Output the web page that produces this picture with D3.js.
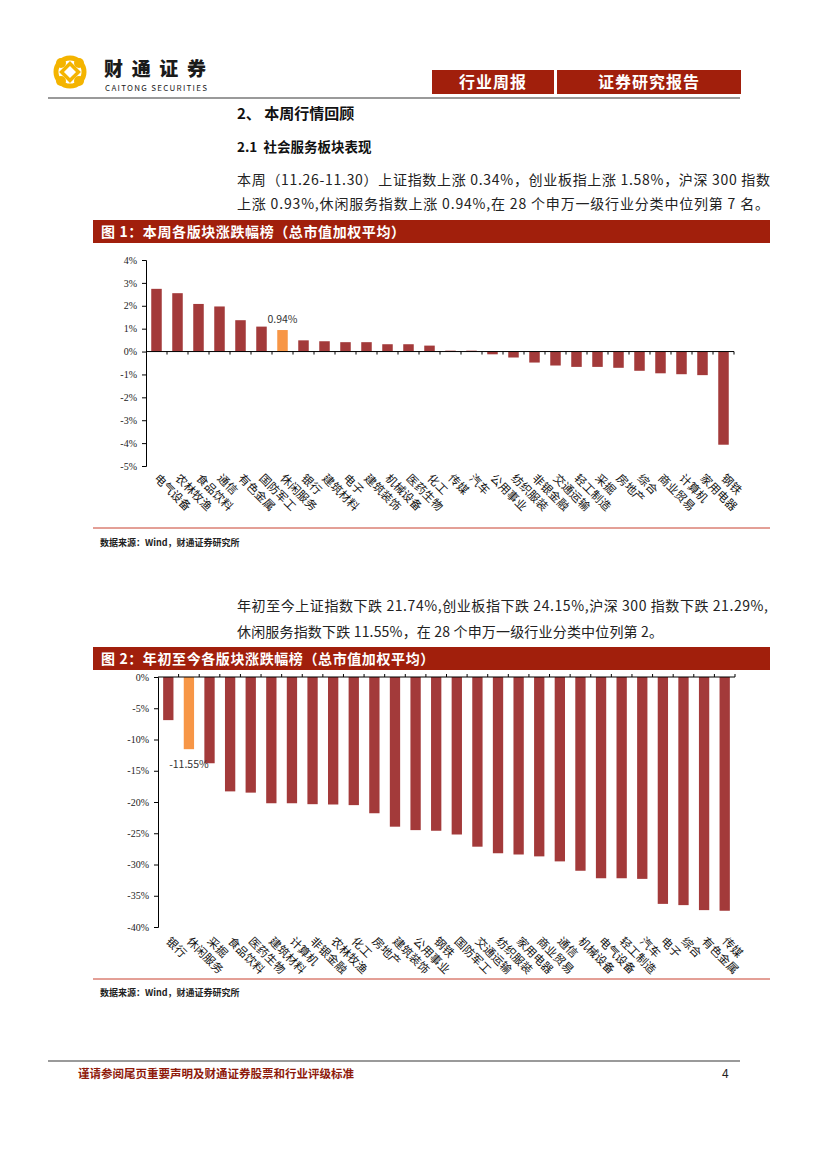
<!DOCTYPE html>
<html>
<head>
<meta charset="utf-8">
<script src="https://cdn.jsdelivr.net/npm/d3@7"></script>
<style>
  html, body { margin: 0; padding: 0; background: #fff; }
  svg { display: block; }
  text { font-family: "Noto Sans CJK SC", "DejaVu Sans", sans-serif; }
  .num { font-family: "Liberation Serif", serif; }
</style>
</head>
<body>
<div id="page"></div>
<script>
// ---- data -------------------------------------------------------
const week_names = ['电气设备','农林牧渔','食品饮料','通信','有色金属','国防军工','休闲服务','银行',
  '建筑材料','电子','建筑装饰','机械设备','医药生物','化工','传媒','汽车','公用事业','纺织服装',
  '非银金融','交通运输','轻工制造','采掘','房地产','综合','商业贸易','计算机','家用电器','钢铁'];
const week_values = [2.74, 2.55, 2.08, 1.97, 1.37, 1.09, 0.94, 0.49, 0.45, 0.41, 0.41, 0.32, 0.32, 0.26,
  0.04, 0.04, -0.12, -0.26, -0.48, -0.61, -0.67, -0.67, -0.71, -0.84, -0.95, -0.99, -1.03, -4.07];
const week_ticks = [4, 3, 2, 1, 0, -1, -2, -3, -4, -5];

const ytd_names = ['银行','休闲服务','采掘','食品饮料','医药生物','建筑材料','计算机','非银金融',
  '农林牧渔','化工','房地产','建筑装饰','公用事业','钢铁','国防军工','交通运输','纺织服装','家用电器',
  '商业贸易','通信','机械设备','电气设备','轻工制造','汽车','电子','综合','有色金属','传媒'];
const ytd_values = [-6.9, -11.55, -13.8, -18.3, -18.5, -20.2, -20.2, -20.35, -20.4, -20.5, -21.8, -23.95,
  -24.5, -24.6, -25.2, -27.15, -28.2, -28.4, -28.7, -29.5, -31.0, -32.2, -32.2, -32.3, -36.3, -36.5, -37.3, -37.4];
const ytd_ticks = [0, -5, -10, -15, -20, -25, -30, -35, -40];

const highlight = '休闲服务';

// ---- style constants --------------------------------------------
const C = {
  bar: '#A33A3A',
  bar_hl: '#F79646',
  banner: '#A11F0C',
  rule: '#C8412F',
  grey: '#9A9A9A',
};

const svg = d3.select('#page').append('svg')
  .attr('width', 827).attr('height', 1170);

// ---- page header ------------------------------------------------
const logo = svg.append('g').attr('transform', 'translate(70,72)');
logo.append('circle').attr('r', 14).attr('fill', 'none').attr('stroke', '#F4B400').attr('stroke-width', 5);
[[-9,-9],[9,-9],[-9,9],[9,9]].forEach(([dx, dy]) => {
  logo.append('circle').attr('cx', dx).attr('cy', dy).attr('r', 5).attr('fill', '#F4B400');
});
logo.append('rect').attr('x', -6).attr('y', -6).attr('width', 12).attr('height', 12)
  .attr('transform', 'rotate(45)').attr('fill', '#fff').attr('stroke', '#F4B400').attr('stroke-width', 3.5);

svg.append('text').attr('x', 104).attr('y', 76).attr('font-size', 19).attr('font-weight', 900)
  .attr('fill', '#1a1a1a').attr('textLength', 102).text('财通证券');
svg.append('text').attr('x', 105).attr('y', 91).attr('font-size', 8)
  .attr('font-family', 'Liberation Sans, Arial, sans-serif').attr('fill', '#222')
  .attr('textLength', 102).text('CAITONG SECURITIES');

const tags = [{x: 432, w: 122, t: '行业周报'}, {x: 557, w: 184, t: '证券研究报告'}];
tags.forEach(d => {
  svg.append('rect').attr('x', d.x).attr('y', 70).attr('width', d.w).attr('height', 24).attr('fill', C.banner);
  svg.append('text').attr('x', d.x + d.w / 2).attr('y', 88).attr('text-anchor', 'middle')
    .attr('font-size', 16).attr('font-weight', 700).attr('fill', '#fff').attr('letter-spacing', 1).text(d.t);
});
svg.append('line').attr('x1', 48).attr('x2', 740).attr('y1', 98).attr('y2', 98)
  .attr('stroke', C.grey).attr('stroke-width', 2);

// ---- body text ---------------------------------------------------
svg.append('text').attr('x', 237).attr('y', 119).attr('font-size', 15).attr('font-weight', 700)
  .attr('fill', '#111').text('2、 本周行情回顾');
svg.append('text').attr('x', 237).attr('y', 152).attr('font-size', 13.5).attr('font-weight', 700)
  .attr('fill', '#111').attr('xml:space', 'preserve').text('2.1  社会服务板块表现');

function para(lines, y0, gap){
  lines.forEach((l, i) => {
    const t = svg.append('text').attr('x', 237).attr('y', y0 + i * gap).attr('font-size', 14)
      .attr('fill', '#222').text(l.t);
    if(l.w) t.attr('textLength', l.w).attr('lengthAdjust', 'spacing');
  });
}
para([
  {t: '本周（11.26-11.30）上证指数上涨 0.34%，创业板指上涨 1.58%，沪深 300 指数', w: 533},
  {t: '上涨 0.93%,休闲服务指数上涨 0.94%,在 28 个申万一级行业分类中位列第 7 名。', w: 532},
], 185, 24);
para([
  {t: '年初至今上证指数下跌 21.74%,创业板指下跌 24.15%,沪深 300 指数下跌 21.29%,', w: 531},
  {t: '休闲服务指数下跌 11.55%，在 28 个申万一级行业分类中位列第 2。', w: 426},
], 611, 26);

// ---- figure banner + source helpers ------------------------------
function banner(y, title){
  svg.append('rect').attr('x', 93).attr('y', y).attr('width', 677).attr('height', 23).attr('fill', C.banner);
  svg.append('text').attr('x', 101).attr('y', y + 17).attr('font-size', 14).attr('font-weight', 700)
    .attr('letter-spacing', 0.6).attr('fill', '#fff').text(title);
}
function source(yLine, yText){
  svg.append('line').attr('x1', 93).attr('x2', 770).attr('y1', yLine).attr('y2', yLine)
    .attr('stroke', C.rule).attr('stroke-width', 1);
  svg.append('text').attr('x', 100).attr('y', yText).attr('font-size', 9).attr('font-weight', 700)
    .attr('fill', '#222').text('数据来源：Wind，财通证券研究所');
}

// ---- chart 1: this week ------------------------------------------
banner(220, '图 1：本周各版块涨跌幅榜（总市值加权平均）');
{
  const x = d3.scaleBand().domain(week_names).range([146, 734]).paddingInner(0.5).paddingOuter(0.25);
  const y = d3.scaleLinear().domain([-5, 4]).range([466, 260]);
  const g = svg.append('g');

  g.selectAll('rect.bar').data(week_names).join('rect').attr('class', 'bar')
    .attr('x', d => x(d))
    .attr('width', x.bandwidth())
    .attr('y', (d, i) => y(Math.max(0, week_values[i])))
    .attr('height', (d, i) => Math.abs(y(week_values[i]) - y(0)))
    .attr('fill', d => d === highlight ? C.bar_hl : C.bar);

  const yAxis = g.append('g').attr('transform', 'translate(146,0)')
    .call(d3.axisLeft(y).tickValues(week_ticks).tickSize(4).tickFormat(d => d + '%'));
  yAxis.select('.domain').attr('stroke', '#000');
  yAxis.selectAll('text').attr('class', 'num').attr('font-size', 10).attr('fill', '#222').attr('dx', -2);

  // x axis at zero with ticks between categories
  g.append('line').attr('x1', 146).attr('x2', 734).attr('y1', y(0)).attr('y2', y(0))
    .attr('stroke', '#000').attr('stroke-width', 1);
  g.selectAll('line.xt').data(d3.range(1, week_names.length + 1)).join('line').attr('class', 'xt')
    .attr('x1', i => 146 + i * x.step())
    .attr('x2', i => 146 + i * x.step())
    .attr('y1', y(0)).attr('y2', y(0) + 3).attr('stroke', '#000');

  g.selectAll('text.cat').data(week_names).join('text').attr('class', 'cat')
    .attr('transform', d => `translate(${x(d) + x.bandwidth() / 2 - 3},${479}) rotate(45)`)
    .attr('font-size', 11.5).attr('fill', '#111').text(d => d);

  const hi = week_names.indexOf(highlight);
  g.append('text').attr('x', x(highlight) + x.bandwidth() / 2).attr('y', y(week_values[hi]) - 7)
    .attr('text-anchor', 'middle').attr('font-size', 10.5)
    .attr('font-family', 'Liberation Sans, Arial, sans-serif').attr('fill', '#333')
    .text(week_values[hi].toFixed(2) + '%');
}
source(528, 546);

// ---- chart 2: year to date --------------------------------------
banner(647, '图 2：年初至今各版块涨跌幅榜（总市值加权平均）');
{
  const x = d3.scaleBand().domain(ytd_names).range([158, 735]).paddingInner(0.5).paddingOuter(0.25);
  const y = d3.scaleLinear().domain([-40, 0]).range([927, 677]);
  const g = svg.append('g');

  g.selectAll('rect.bar').data(ytd_names).join('rect').attr('class', 'bar')
    .attr('x', d => x(d))
    .attr('width', x.bandwidth())
    .attr('y', y(0))
    .attr('height', (d, i) => y(ytd_values[i]) - y(0))
    .attr('fill', d => d === highlight ? C.bar_hl : C.bar);

  const yAxis = g.append('g').attr('transform', 'translate(158,0)')
    .call(d3.axisLeft(y).tickValues(ytd_ticks).tickSize(4).tickFormat(d => d + '%'));
  yAxis.select('.domain').attr('stroke', '#000');
  yAxis.selectAll('text').attr('class', 'num').attr('font-size', 10).attr('fill', '#222').attr('dx', -2);

  g.append('line').attr('x1', 158).attr('x2', 735).attr('y1', y(0)).attr('y2', y(0))
    .attr('stroke', '#000').attr('stroke-width', 1);
  g.selectAll('line.xt').data(d3.range(1, ytd_names.length + 1)).join('line').attr('class', 'xt')
    .attr('x1', i => 158 + i * x.step())
    .attr('x2', i => 158 + i * x.step())
    .attr('y1', y(0)).attr('y2', y(0) - 3).attr('stroke', '#000');

  g.selectAll('text.cat').data(ytd_names).join('text').attr('class', 'cat')
    .attr('transform', d => `translate(${x(d) + x.bandwidth() / 2 - 3},${942}) rotate(45)`)
    .attr('font-size', 11.5).attr('fill', '#111').text(d => d);

  const hi = ytd_names.indexOf(highlight);
  g.append('text').attr('x', x(highlight) + x.bandwidth() / 2).attr('y', y(ytd_values[hi]) + 19)
    .attr('text-anchor', 'middle').attr('font-size', 10.5)
    .attr('font-family', 'Liberation Sans, Arial, sans-serif').attr('fill', '#333')
    .text(ytd_values[hi].toFixed(2) + '%');
}
source(979, 996);

// ---- footer -----------------------------------------------------
svg.append('line').attr('x1', 48).attr('x2', 740).attr('y1', 1061).attr('y2', 1061)
  .attr('stroke', C.grey).attr('stroke-width', 2);
svg.append('text').attr('x', 78).attr('y', 1078).attr('font-size', 11.5).attr('font-weight', 700)
  .attr('fill', '#8E1A0B').text('谨请参阅尾页重要声明及财通证券股票和行业评级标准');
svg.append('text').attr('x', 722).attr('y', 1078).attr('font-size', 12)
  .attr('font-family', 'Liberation Sans, Arial, sans-serif').attr('fill', '#222').text('4');
</script>
</body>
</html>
